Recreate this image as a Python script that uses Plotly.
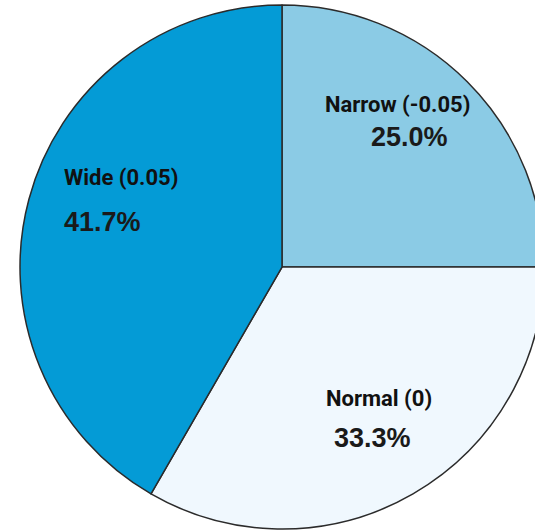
import plotly.graph_objects as go

# ---- data ----
categories = ["Narrow (-0.05)", "Normal (0)", "Wide (0.05)"]
values = [3, 4, 5]
colors = ["#8BCBE5", "#F0F8FE", "#049BD6"]

# ---- layout constants ----
W, H = 560, 530
ML, MR, MT, MB = 20, 16, 5, 1
PW, PH = W - ML - MR, H - MT - MB

# label anchor positions in pixels (label line, percentage line) per slice
label_pos = [(397, 105), (379, 398), (121, 177)]
pct_pos = [(409, 137), (372, 438), (102, 222)]


def px2paper(x, y):
    return (x - ML) / PW, 1 - (y - MT) / PH


fig = go.Figure(
    go.Pie(
        labels=categories,
        values=values,
        sort=False,
        direction="clockwise",
        rotation=0,
        marker=dict(colors=colors, line=dict(color="#2b2b2b", width=1.5)),
        textinfo="none",
        hoverinfo="label+percent",
        showlegend=False,
    )
)

total = sum(values)
annotations = []
for i, (cat, v) in enumerate(zip(categories, values)):
    lx, ly = px2paper(*label_pos[i])
    annotations.append(
        dict(
            x=lx, y=ly, xref="paper", yref="paper", showarrow=False,
            text=f"<b>{cat}</b>",
            font=dict(family="Roboto", size=22, color="#111111"),
            xanchor="center", yanchor="middle",
        )
    )
    qx, qy = px2paper(*pct_pos[i])
    annotations.append(
        dict(
            x=qx, y=qy, xref="paper", yref="paper", showarrow=False,
            text=f"<b>{100 * v / total:.1f}%</b>",
            font=dict(family="Liberation Sans", size=27, color="#1a1a1a"),
            xanchor="center", yanchor="middle",
        )
    )

fig.update_layout(
    width=W,
    height=H,
    margin=dict(l=ML, r=MR, t=MT, b=MB),
    paper_bgcolor="white",
    plot_bgcolor="white",
    annotations=annotations,
)

fig.write_html(
    "out.html",
    post_script="document.documentElement.style.overflow='hidden';document.body.style.overflow='hidden';document.body.style.margin='0';",
)
